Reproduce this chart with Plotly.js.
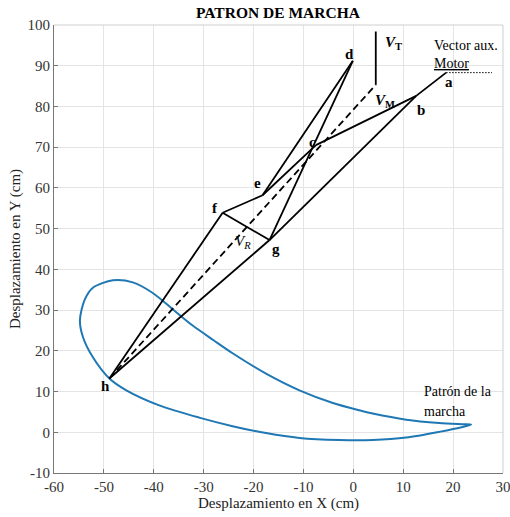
<!DOCTYPE html>
<html>
<head>
<meta charset="utf-8">
<script src="https://cdn.plot.ly/plotly-3.0.1.min.js"></script>
<style>html,body{margin:0;padding:0;background:#fff;overflow:hidden;}#chart{width:510px;height:517px;}</style>
</head>
<body>
<div id="chart"></div>
<script>
// ---- data ----
var nodeNames = ['a', 'b', 'c', 'd', 'e', 'f', 'g', 'h'];
var nodeX = [18.6, 12.6, -7.5, -0.1, -18.2, -26.2, -16.8, -48.9];
var nodeY = [88.3, 82.6, 70.5, 91.2, 58.2, 53.9, 47.2, 13.2];
var links = [['a','b'],['b','c'],['b','g'],['c','e'],['d','e'],['d','g'],['e','f'],['f','g'],['f','h'],['g','h']];
var vmX = 4.5, vmY = 85.3;     // V_M vector tip
var vtX = [4.5, 4.5], vtY = [85.3, 98.4];  // V_T vector
var auxX = [18.6, 27.8], auxY = [88.3, 88.3]; // auxiliary motor vector (dotted)
// gait pattern, starting at the right-hand tip, lower branch, loop, upper branch back to tip
var gaitX = [23.6, 21.9, 17.2, 10.6, 3.9, -2.8, -10.8, -17.5, -24.2, -30.9, -38.9, -45.5, -48.9, -52.2, -54.2, -54.8, -53.9, -52.2, -48.2, -44.2, -40.2, -36.2, -32.2, -28.0, -24.2, -17.5, -10.8, -4.1, 1.2, 3.9, 10.6, 17.2, 21.9, 23.6];
var gaitY = [1.9, 1.3, 0.1, -1.3, -1.9, -1.9, -1.4, -0.2, 1.5, 3.6, 6.6, 10.3, 13.2, 18.4, 23.4, 27.5, 32.4, 35.5, 37.3, 36.8, 34.2, 30.2, 26.2, 22.6, 19.4, 14.4, 10.3, 7.2, 5.4, 4.6, 3.1, 2.3, 2.0, 1.9];
var xTicks = [-60, -50, -40, -30, -20, -10, 0, 10, 20, 30];
var yTicks = [-10, 0, 10, 20, 30, 40, 50, 60, 70, 80, 90, 100];

// ---- build link trace ----
function idx(n){ return nodeNames.indexOf(n); }
var lx = [], ly = [];
links.forEach(function(l){
  lx.push(nodeX[idx(l[0])], nodeX[idx(l[1])], null);
  ly.push(nodeY[idx(l[0])], nodeY[idx(l[1])], null);
});
var h = idx('h');

var serif = 'Liberation Serif, Times New Roman, serif';
var traces = [
  {x: gaitX, y: gaitY, mode: 'lines', line: {color: '#1f78b4', width: 2, shape: 'spline', smoothing: 0.8}, hoverinfo: 'skip'},
  {x: lx, y: ly, mode: 'lines', line: {color: '#000', width: 1.8}, connectgaps: false, hoverinfo: 'skip'},
  {x: [nodeX[h], vmX], y: [nodeY[h], vmY], mode: 'lines', line: {color: '#000', width: 1.8, dash: '7px,4px'}, hoverinfo: 'skip'},
  {x: vtX, y: vtY, mode: 'lines', line: {color: '#000', width: 1.8}, hoverinfo: 'skip'},
  {x: auxX, y: auxY, mode: 'lines', line: {color: '#000', width: 1, dash: '1.5px,1.5px'}, hoverinfo: 'skip'}
];

function ann(text, x, y, opts){
  var a = {text: text, x: x, y: y, xref: 'x', yref: 'y', showarrow: false, xanchor: 'center', yanchor: 'middle',
           font: {family: serif, size: 15, color: '#000'}};
  for (var k in (opts||{})) a[k] = opts[k];
  return a;
}

var layout = {
  width: 510, height: 517,
  margin: {l: 54, r: 7, t: 25, b: 44},
  paper_bgcolor: '#fff', plot_bgcolor: '#fff',
  showlegend: false,
  title: {text: '<b>PATRON DE MARCHA</b>', font: {family: serif, size: 15.5, color: '#000'}, x: 0.545, xanchor: 'center', y: 0.975, yanchor: 'middle'},
  xaxis: {
    range: [-60, 30], tickvals: xTicks, ticktext: xTicks.map(String),
    showgrid: true, gridcolor: '#e4e4e4', gridwidth: 1, zeroline: false,
    showline: true, linecolor: '#777', linewidth: 1,
    ticks: 'inside', ticklen: 4, tickcolor: '#777', ticklabeloverflow: 'allow',
    tickfont: {family: serif, size: 15, color: '#333'},
    title: {text: 'Desplazamiento en X (cm)', font: {family: serif, size: 15, color: '#222'}, standoff: 3}
  },
  yaxis: {
    range: [-10, 100], tickvals: yTicks, ticktext: yTicks.map(String),
    showgrid: true, gridcolor: '#e4e4e4', gridwidth: 1, zeroline: false,
    showline: true, linecolor: '#777', linewidth: 1,
    ticks: 'inside', ticklen: 4, tickcolor: '#777', ticklabeloverflow: 'allow',
    tickfont: {family: serif, size: 15, color: '#333'},
    title: {text: 'Desplazamiento en Y (cm)', font: {family: serif, size: 15, color: '#222'}, standoff: 3}
  },
  shapes: [
    {type: 'line', xref: 'paper', yref: 'paper', x0: 0, x1: 1, y0: 1, y1: 1, line: {color: '#cfcfcf', width: 1}},
    {type: 'line', xref: 'paper', yref: 'paper', x0: 1, x1: 1, y0: 0, y1: 1, line: {color: '#cfcfcf', width: 1}}
  ],
  annotations: [
    ann('<b>d</b>', -0.8, 93.0),
    ann('<b><i>V</i><sub>T</sub></b>', 6.0, 95.6, {xanchor: 'left'}),
    ann('Vector aux.', 22.6, 95.0, {font: {family: serif, size: 14, color: '#000'}}),
    ann('<u>Motor</u>', 15.8, 90.5, {xanchor: 'left', font: {family: serif, size: 14, color: '#000'}}),
    ann('<b>a</b>', 19.2, 86.0),
    ann('<b><i>V</i><sub>M</sub></b>', 4.0, 81.3, {xanchor: 'left'}),
    ann('<b>b</b>', 13.6, 79.1),
    ann('<b>c</b>', -8.2, 71.2),
    ann('<b>e</b>', -19.2, 61.1),
    ann('<b>f</b>', -27.7, 55.0),
    ann('<b>g</b>', -15.5, 44.9),
    ann('<i>V</i><sub><i>R</i></sub>', -22.2, 46.7),
    ann('<b>h</b>', -49.7, 11.3),
    ann('Patrón de la', 13.8, 9.9, {xanchor: 'left', font: {family: serif, size: 14, color: '#000'}}),
    ann('marcha', 13.8, 5.2, {xanchor: 'left', font: {family: serif, size: 14, color: '#000'}})
  ]
};

Plotly.newPlot('chart', traces, layout, {displayModeBar: false, staticPlot: true});
</script>
</body>
</html>
